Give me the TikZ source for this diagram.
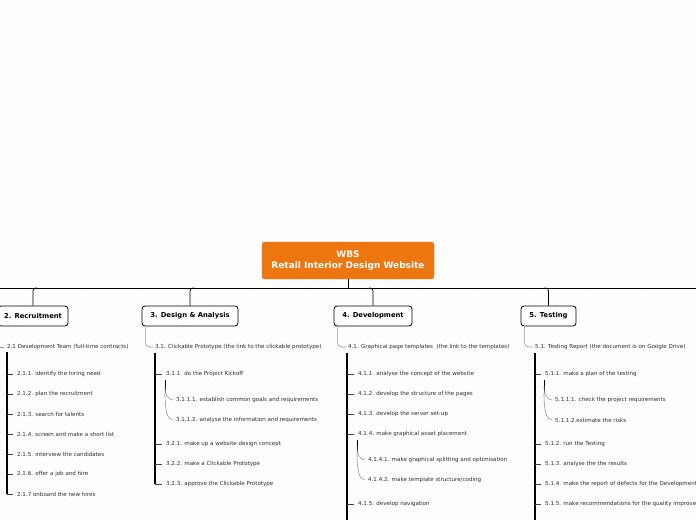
\documentclass[tikz,border=0pt]{standalone}
\usepackage{fontspec}
\setmainfont{DejaVu Sans}
\definecolor{wbsorange}{RGB}{237,118,16}
\definecolor{linkgray}{RGB}{150,150,150}
\definecolor{itemtext}{RGB}{45,45,45}
\begin{document}
\begin{tikzpicture}[x=1pt,y=-1pt,
  root/.style={fill=wbsorange, draw=wbsorange, rounded corners=2.5pt, text=white,
    font=\fontsize{9}{11}\selectfont\bfseries, align=center,
    minimum width=172pt, minimum height=37pt, inner sep=0pt},
  phase/.style={draw=black, line width=0.8pt, fill=white, rounded corners=3pt,
    font=\fontsize{6.8}{8}\selectfont\bfseries, minimum height=20pt, inner sep=0pt},
  item/.style={anchor=west, inner sep=0pt, font=\fontsize{5.55}{6}\selectfont, text=itemtext},
  bus/.style={line width=0.7pt, black},
  trunk/.style={line width=1.3pt, black},
  subtrunk/.style={line width=0.7pt, black},
  tick/.style={line width=0.5pt, black!75},
  soft/.style={line width=0.6pt, linkgray},
]
\useasboundingbox (0,0) rectangle (696,520);
\clip (0,0) rectangle (696,520);
\fill[white] (0,0) rectangle (696,520);
% faint background hatching
\foreach \i in {-520,-513,...,696} {
  \draw[black!5, line width=0.3pt] (\i,520) -- (\i+520,0);
}

% root
\node[root] (root) at (348,260.5) {WBS\\Retail Interior Design Website};
\coordinate (busL) at (0,288);
\coordinate (busR) at (696,288);
\draw[bus] (busL) -- (busR);
\draw[bus] (root.south) -- (root.south |- busL);

% phases
\node[phase, minimum width=70pt] (rec) at (33,316) {2. Recruitment};
\node[phase, minimum width=96pt] (des) at (190,316) {3. Design \& Analysis};
\node[phase, minimum width=78pt] (dev) at (373,316) {4. Development};
\node[phase, minimum width=55pt] (tst) at (548.5,316) {5. Testing};

\draw[bus, rounded corners=3pt] (rec.north |- busL) ++(4,0) -| (rec.north);
\draw[bus, rounded corners=3pt] (des.north |- busL) ++(4,0) -| (des.north);
\draw[bus, rounded corners=3pt] (dev.north |- busL) ++(-4,0) -| (dev.north);
\draw[bus, rounded corners=3pt] (tst.north |- busL) ++(-4,0) -| (tst.north);

% ---------- Recruitment ----------
\node[item] (r21) at (7,347) {2.1 Development Team (full-time contracts)};
\coordinate (r21in) at (0,347);
\draw[soft] (r21in) -- ([xshift=-3pt]r21.west);
\coordinate (rtop) at (7,352);
\node[item] (r211) at (17,374) {2.1.1. identify the hiring need};
\node[item] (r212) at (17,394) {2.1.2. plan the recruitment};
\node[item] (r213) at (17,414) {2.1.3. search for talents};
\node[item] (r214) at (17,434) {2.1.4. screen and make a short list};
\node[item] (r215) at (17,454) {2.1.5. interview the candidates};
\node[item] (r216) at (17,474) {2.1.6. offer a job and hire};
\node[item] (r217) at (17,494) {2.1.7 onboard the new hires};
\draw[trunk] (rtop) -- (rtop |- r217.west);
\draw[tick] (rtop |- r217.west) -- ([xshift=-4pt]r217.west);
\foreach \n in {r211,r212,r213,r214,r215,r216}
  \draw[tick] (rtop |- \n.west) -- ([xshift=-4pt]\n.west);

% ---------- Design & Analysis ----------
\node[item] (d31) at (155,347) {3.1. Clickable Prototype (the link to the clickable prototype)};
\draw[soft, rounded corners=4pt] (des.south west) ++(4,0) |- ([xshift=-2pt]d31.west);
\coordinate (dtop) at (155,353);
\node[item] (d311) at (166,374) {3.1.1. do the Project Kickoff};
\node[item] (d3111) at (176,400) {3.1.1.1. establish common goals and requirements};
\node[item] (d3112) at (176,420) {3.1.1.2. analyse the information and requirements};
\node[item] (d321) at (166,444) {3.2.1. make up a website design concept};
\node[item] (d322) at (166,464) {3.2.2. make a Clickable Prototype};
\node[item] (d323) at (166,484) {3.2.3. approve the Clickable Prototype};
\draw[trunk] (dtop) -- (dtop |- d323.west);
\draw[tick] (dtop |- d323.west) -- ([xshift=-4pt]d323.west);
\foreach \n in {d311,d321,d322}
  \draw[tick] (dtop |- \n.west) -- ([xshift=-4pt]\n.west);
\coordinate (dstop) at (165,380);
\coordinate (dsbot) at (165,393);
\draw[subtrunk] (dstop) -- (dsbot);
\draw[soft] (165,386) .. controls (165,396) and (168,399) .. ([xshift=-3pt]d3111.west);
\draw[soft] (dsbot) .. controls (165,414) and (168,419) .. ([xshift=-3pt]d3112.west);

% ---------- Development ----------
\node[item] (v41) at (348,347) {4.1. Graphical page templates~ (the link to the templates)};
\draw[soft, rounded corners=4pt] (dev.south west) ++(4,0) |- ([xshift=-2pt]v41.west);
\coordinate (vtop) at (347,353);
\coordinate (vbot) at (347,520);
\node[item] (v411) at (358,374) {4.1.1. analyse the concept of the website};
\node[item] (v412) at (358,394) {4.1.2. develop the structure of the pages};
\node[item] (v413) at (358,414) {4.1.3. develop the server set-up};
\node[item] (v414) at (358,434) {4.1.4. make graphical asset placement};
\node[item] (v4141) at (368,460) {4.1.4.1. make graphical splitting and optimisation};
\node[item] (v4142) at (368,480) {4.1.4.2. make template structure/coding};
\node[item] (v415) at (358,504) {4.1.5. develop navigation};
\draw[trunk] (vtop) -- (vbot);
\foreach \n in {v411,v412,v413,v414,v415}
  \draw[tick] (vtop |- \n.west) -- ([xshift=-4pt]\n.west);
\coordinate (vstop) at (357,440);
\coordinate (vsbot) at (357,453);
\draw[subtrunk] (vstop) -- (vsbot);
\draw[soft] (357,446) .. controls (357,456) and (360,459) .. ([xshift=-3pt]v4141.west);
\draw[soft] (vsbot) .. controls (357,474) and (360,479) .. ([xshift=-3pt]v4142.west);

% ---------- Testing ----------
\node[item] (t51) at (535,347) {5.1. Testing Report (the document is on Google Drive)};
\draw[soft, rounded corners=4pt] (tst.south west) ++(4,0) |- ([xshift=-2pt]t51.west);
\coordinate (ttop) at (535,353);
\coordinate (tbot) at (535,520);
\node[item] (t511) at (545,374) {5.1.1. make a plan of the testing};
\node[item] (t5111) at (555,400) {5.1.1.1. check the project requirements};
\node[item] (t5112) at (555,420) {5.1.1.2.estimate the risks};
\node[item] (t512) at (545,444) {5.1.2. run the Testing};
\node[item] (t513) at (545,464) {5.1.3. analyse the the results};
\node[item] (t514) at (545,484) {5.1.4. make the report of defects for the Development};
\node[item] (t515) at (545,504) {5.1.5. make recommendations for the quality improve};
\draw[trunk] (ttop) -- (tbot);
\foreach \n in {t511,t512,t513,t514,t515}
  \draw[tick] (ttop |- \n.west) -- ([xshift=-4pt]\n.west);
\coordinate (tstop) at (544,380);
\coordinate (tsbot) at (544,393);
\draw[subtrunk] (tstop) -- (tsbot);
\draw[soft] (544,386) .. controls (544,396) and (547,399) .. ([xshift=-3pt]t5111.west);
\draw[soft] (tsbot) .. controls (544,414) and (547,419) .. ([xshift=-3pt]t5112.west);
\end{tikzpicture}
\end{document}
